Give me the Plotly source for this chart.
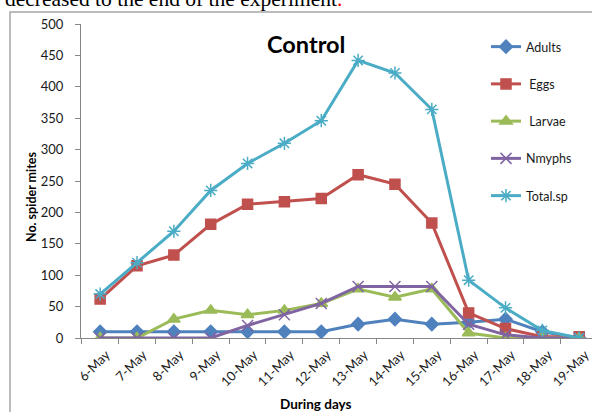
import plotly.graph_objects as go

# Daily counts of spider mite stages on the control plants
days = ["6-May", "7-May", "8-May", "9-May", "10-May", "11-May", "12-May",
        "13-May", "14-May", "15-May", "16-May", "17-May", "18-May", "19-May"]
adults = [10, 10, 10, 10, 10, 10, 10, 22, 30, 22, 25, 30, 10, 0]
eggs = [62, 115, 132, 181, 213, 217, 222, 260, 245, 183, 40, 15, 2, 2]
larvae = [0, 0, 30, 44, 37, 44, 55, 78, 65, 78, 8, 0, 0, 0]
nymphs = [0, 0, 0, 0, 20, 37, 55, 82, 82, 82, 22, 5, 0, 0]
total = [70, 120, 170, 235, 278, 310, 346, 442, 422, 364, 92, 48, 12, 0]

series = [
    ("Adults", adults, "#4F81BD", "diamond", 10),
    ("\u00a0Eggs", eggs, "#C0504D", "square", 10),
    ("\u00a0Larvae", larvae, "#9BBB59", "triangle-up", 11),
    ("Nmyphs", nymphs, "#8064A2", "x-thin-open", 11),
    ("Total.sp", total, "#4BACC6", "asterisk-open", 11),
]

W, H = 592, 412
L, R, T, B = 81, 0, 24, 74
pw, ph = W - L - R, H - T - B


def px(x):
    return (x - L) / pw


def py(y):
    return (H - B - y) / ph


font = "Lato, 'Open Sans', sans-serif"
fig = go.Figure()
for i, (name, vals, col, sym, size) in enumerate(series):
    fig.add_trace(go.Scatter(
        x=days, y=vals, name=name, mode="lines+markers",
        legendgroup=f"g{i}",
        line=dict(color=col, width=3),
        marker=dict(symbol=sym, size=size, color=col,
                    line=dict(color=col, width=1.5)),
    ))

step = 36.85
fig.update_layout(
    width=W, height=H,
    margin=dict(l=L, r=R, t=T, b=B),
    paper_bgcolor="white", plot_bgcolor="white",
    font=dict(family=font, size=13, color="#1a1a1a"),
    showlegend=True,
    legend=dict(x=px(486), y=py(32), xanchor="left", yanchor="top",
                bgcolor="rgba(0,0,0,0)", tracegroupgap=18,
                font=dict(size=12.5, color="#1a1a1a"), itemwidth=30),
    xaxis=dict(
        type="category", range=[-0.52, -0.52 + pw / step],
        showline=True, linecolor="#868686", linewidth=1,
        ticks="outside", ticklen=5, tickcolor="#868686", tickson="boundaries",
        tickangle=-45, showgrid=False, zeroline=False,
        tickfont=dict(size=13), ticklabelshift=6, ticklabelstandoff=3,
    ),
    yaxis=dict(
        range=[0, 500], dtick=50,
        showline=True, linecolor="#868686", linewidth=1,
        ticks="outside", ticklen=5, tickcolor="#868686",
        showgrid=False, zeroline=False, tickfont=dict(size=13),
        ticklabelstandoff=9,
    ),
    shapes=[dict(type="rect", xref="paper", yref="paper",
                 x0=px(10), x1=px(600), y0=py(430), y1=py(12),
                 line=dict(color="#A6A6A6", width=1.5), layer="below")],
    annotations=[
        dict(text="<b>Control</b>", x=px(306), y=py(44),
             xref="paper", yref="paper", showarrow=False,
             font=dict(size=23.5, family=font, color="black"),
             xanchor="center", yanchor="middle"),
        dict(text="<b>No. spider mites</b>", x=px(31), y=py(197),
             xref="paper", yref="paper", showarrow=False, textangle=-90,
             font=dict(size=12.5, color="black"),
             xanchor="center", yanchor="middle"),
        dict(text="<b>During days</b>", x=px(316), y=py(404),
             xref="paper", yref="paper", showarrow=False,
             font=dict(size=13.5, color="black"),
             xanchor="center", yanchor="middle"),
        dict(text="decreased to the end of the experiment"
                  "<span style='color:red'>.</span>",
             x=px(3), y=py(-1), xref="paper", yref="paper", showarrow=False,
             font=dict(size=21.5, family="'Liberation Serif', serif",
                       color="black"),
             xanchor="left", yanchor="middle"),
    ],
)

fig.write_html("out.html")
